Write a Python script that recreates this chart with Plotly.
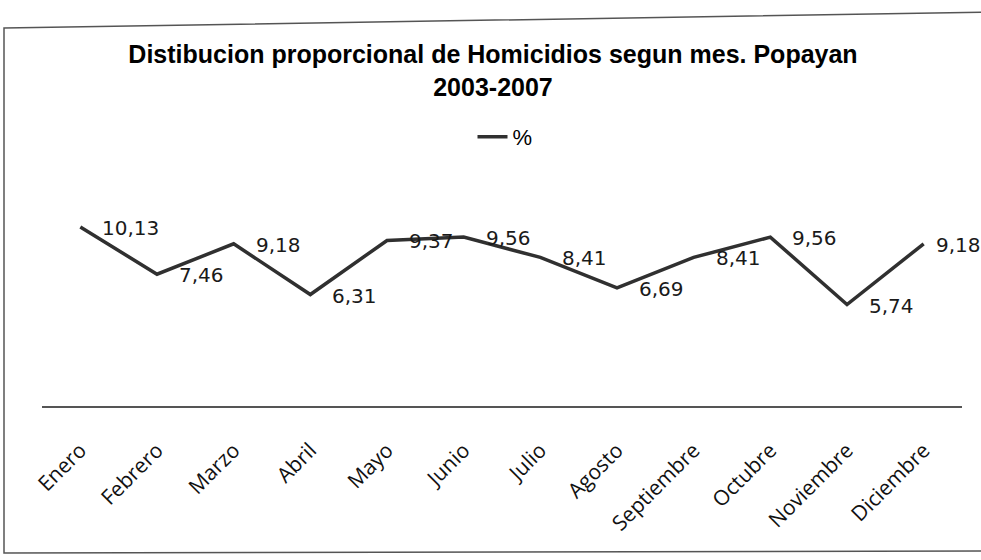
import plotly.graph_objects as go

meses = ["Enero", "Febrero", "Marzo", "Abril", "Mayo", "Junio", "Julio",
         "Agosto", "Septiembre", "Octubre", "Noviembre", "Diciembre"]
porcentaje = [10.13, 7.46, 9.18, 6.31, 9.37, 9.56, 8.41, 6.69, 8.41, 9.56, 5.74, 9.18]
etiquetas = [f"{v:.2f}".replace(".", ",") for v in porcentaje]

W, H = 981, 560
L, R, T, B = 42, 962, 194, 406


def px(x):  # page pixel -> paper
    return (x - L) / (R - L)


def py(y):
    return (B - y) / (B - T)


fig = go.Figure()
fig.add_trace(go.Scatter(
    x=meses, y=porcentaje, name="%",
    mode="lines",
    line=dict(color="#303030", width=3.5),
    hoverinfo="x+y",
))

for i, (mes, val, txt) in enumerate(zip(meses, porcentaje, etiquetas)):
    fig.add_annotation(
        x=mes, y=val, text=txt, showarrow=False,
        xanchor="left", yanchor="middle",
        xshift=10 if i == len(meses) - 1 else 20, yshift=-1,
        font=dict(family="DejaVu Sans", size=20, color="#1a1a1a"),
    )

border = (f"M{px(4)},{py(28)} L{px(1000)},{py(12)} "
          f"L{px(1000)},{py(551)} L{px(4)},{py(553)} Z")

fig.update_layout(
    width=W, height=H,
    margin=dict(l=L, r=W - R, t=T, b=H - B),
    paper_bgcolor="white", plot_bgcolor="white",
    title=dict(
        text="Distibucion proporcional de Homicidios segun mes. Popayan<br>2003-2007",
        font=dict(family="Liberation Sans", size=25, color="black", weight="bold"),
        x=493 / W, xanchor="center", xref="container",
        y=1 - 63 / H, yanchor="middle", yref="container",
    ),
    showlegend=True,
    legend=dict(
        x=px(505), y=py(137), xanchor="center", yanchor="middle",
        orientation="h", font=dict(family="Liberation Sans", size=22, color="black"),
        bgcolor="rgba(0,0,0,0)",
    ),
    xaxis=dict(
        showline=True, linecolor="#555555", linewidth=1.5,
        showgrid=False, ticks="", tickangle=-45,
        tickfont=dict(family="Open Sans", size=21, color="#111111"),
        ticklabelstandoff=22, range=[-0.5, 11.5], fixedrange=True,
    ),
    yaxis=dict(
        range=[0, 12], visible=False, showgrid=False, fixedrange=True,
    ),
    shapes=[dict(type="path", path=border, xref="paper", yref="paper",
                 line=dict(color="#555555", width=1.5), layer="below")],
)

fig.write_html(
    "out.html",
    config={"displayModeBar": False},
    post_script="document.body.style.margin='0';document.body.style.overflow='hidden';",
)
